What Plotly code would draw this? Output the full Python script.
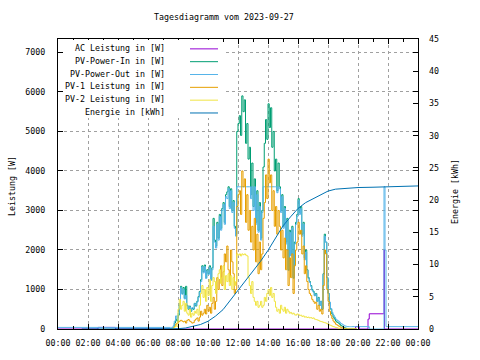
import pandas as pd
import plotly.graph_objects as go

# ---------------- data ----------------
day_start = "2023-09-27 07:30"
day_times = [t.strftime("%Y-%m-%d %H:%M") for t in pd.date_range(day_start, periods=150, freq="5min")]

pv_in = [
    0, 0, 40, 150, 250, 200,
    350, 600, 1080, 900, 1050, 780, 1080, 600, 500, 580, 450, 520,
    500, 650, 580, 700, 820, 950, 1250, 1600, 1450, 1620, 1300, 1500,
    1400, 1600, 1250, 1550, 2800, 2250, 2100, 2700, 2300, 2900, 2550, 3050,
    3200, 2700, 3400, 3470, 3600, 3100, 3550, 3000, 3250, 2600, 2400, 5000,
    5200, 5400, 4900, 5900, 5500, 5800, 4700, 5200, 4300, 4600, 3400, 4200,
    3100, 3800, 2700, 3500, 2500, 3200, 2300, 3000, 4100, 4700, 5300, 4800,
    5700, 5100, 5600, 4600, 5000, 4000, 4300, 3500, 4200, 3600, 3000, 3400,
    2600, 3100, 2200, 2800, 1500, 2500, 1900, 2600, 1300, 2200, 2700, 2900,
    3300, 2950, 3100, 2400, 2700, 1800, 2000, 1500, 1300, 1200, 1100, 1000,
    950, 850, 900, 700, 800, 600, 700, 500, 1400, 2400, 2200, 1300,
    900, 650, 500, 380, 300, 250, 200, 170, 150, 120, 90, 70,
    50, 30, 20, 0, 0, 0, 0, 0, 0, 0, 0, 0,
]

pv_out_day = [
    40, 40, 80, 200, 330, 260,
    400, 650, 1050, 880, 1000, 760, 850, 580, 520, 560, 470, 540,
    520, 640, 600, 680, 800, 930, 1200, 1570, 1420, 1580, 1280, 1470,
    1380, 1560, 1230, 1500, 2600, 2200, 2050, 2650, 2250, 2850, 2500, 3000,
    3150, 2650, 3350, 3300, 3550, 3050, 3500, 2950, 3200, 2550, 2350, 3600,
    3600, 3600, 3600, 3600, 3600, 3600, 3600, 3600, 3600, 3600, 3300, 3600,
    3000, 3600, 2650, 3400, 2450, 3100, 2250, 2950, 3600, 3600, 3600, 3600,
    3600, 3600, 3600, 3600, 3600, 3600, 3600, 3450, 3600, 3550, 2950, 3350,
    2550, 3050, 2150, 2750, 1480, 2450, 1850, 2550, 1280, 2150, 2650, 2850,
    3250, 2900, 3050, 2350, 2650, 1750, 1950, 1480, 1280, 1180, 1080, 980,
    930, 840, 880, 700, 780, 600, 700, 520, 1380, 2350, 2200, 1300,
    900, 680, 520, 420, 350, 300, 250, 220, 200, 170, 140, 120,
    100, 80, 70, 60, 60, 60, 60, 60, 60, 60, 60, 60,
]
pv_out_night_times = ["2023-09-27 00:00"]
pv_out_night = [40]
pv_out_eve_times = ["2023-09-27 20:00", "2023-09-27 20:45", "2023-09-27 21:44",
                    "2023-09-27 21:48", "2023-09-27 21:52", "2023-09-28 00:00"]
pv_out_eve = [60, 0, 3600, 2000, 60, 60]

pv1 = [
    0, 0, 20, 60, 120, 150,
    180, 200, 220, 200, 180, 200, 150, 220, 240, 200, 180, 150,
    160, 220, 250, 280, 200, 300, 450, 350, 400, 500, 380, 600,
    450, 550, 400, 650, 800, 500, 700, 1300, 1000, 1250, 1600, 1100,
    1450, 1900, 1700, 2100, 1500, 1200, 2000, 1700, 1400, 900, 1000, 3100,
    3400, 3500, 2900, 4000, 3600, 3800, 2700, 3400, 2500, 3000, 2200, 2600,
    2000, 2800, 1700, 2400, 1400, 2200, 1500, 1900, 2800, 3200, 3900, 3300,
    4300, 3700, 3900, 3000, 3500, 2600, 3100, 2400, 3000, 2600, 2000, 2500,
    1800, 2300, 1500, 2000, 1100, 1800, 1300, 1900, 900, 1600, 2000, 2200,
    2700, 2400, 2500, 1900, 2100, 1400, 1600, 1200, 1000, 900, 850, 750,
    700, 650, 680, 500, 600, 450, 500, 380, 1100, 2000, 1900, 1000,
    700, 450, 350, 270, 200, 160, 120, 100, 80, 60, 40, 30,
    20, 10, 0, 0, 0, 0, 0, 0, 0, 0, 0, 0,
]

pv2 = [
    0, 0, 20, 50, 90, 60,
    500, 750, 500, 600, 700, 450, 650, 400, 350, 500, 300, 400,
    350, 450, 400, 500, 350, 600, 900, 1100, 800, 1000, 700, 1050,
    850, 1250, 700, 1100, 1300, 1200, 900, 1200, 1400, 1500, 1150, 1300,
    1600, 1000, 1350, 1200, 1400, 1100, 1350, 1000, 1300, 1100, 1200, 1900,
    1870, 1900, 1850, 1900, 1880, 1900, 1870, 1850, 1300, 1100, 900, 1200,
    800, 700, 600, 700, 550, 600, 700, 550, 600, 800, 700, 900,
    1000, 850, 1050, 800, 900, 700, 550, 450, 500, 400, 600, 500,
    450, 550, 400, 500, 450, 400, 420, 380, 400, 360, 350, 380,
    370, 340, 350, 320, 330, 300, 310, 290, 300, 280, 290, 270,
    280, 250, 240, 230, 220, 200, 190, 180, 170, 160, 150, 130,
    120, 100, 90, 70, 60, 50, 40, 30, 20, 10, 0, 0,
    0, 0, 0, 0, 0, 0, 0, 0, 0, 0, 0, 0,
]

ac_times = ["2023-09-27 00:00", "2023-09-27 02:40", "2023-09-27 03:50", "2023-09-27 19:50",
            "2023-09-27 20:05", "2023-09-27 20:40", "2023-09-27 20:45", "2023-09-27 21:44",
            "2023-09-27 21:46", "2023-09-28 00:00"]
ac_power = [0, 40, 0, 60, 0, 250, 385, 2000, 0, 0]

energy_times = ["2023-09-27 01:35", "2023-09-27 07:30", "2023-09-27 08:00", "2023-09-27 08:30",
                "2023-09-27 09:00", "2023-09-27 09:30", "2023-09-27 10:00", "2023-09-27 10:30",
                "2023-09-27 11:00", "2023-09-27 11:30", "2023-09-27 12:00", "2023-09-27 12:30",
                "2023-09-27 13:00", "2023-09-27 13:30", "2023-09-27 14:00", "2023-09-27 14:30",
                "2023-09-27 15:00", "2023-09-27 15:30", "2023-09-27 16:00", "2023-09-27 16:30",
                "2023-09-27 17:00", "2023-09-27 17:30", "2023-09-27 18:00", "2023-09-27 18:30",
                "2023-09-27 19:00", "2023-09-27 19:30", "2023-09-27 20:00", "2023-09-27 21:00",
                "2023-09-27 22:00", "2023-09-27 22:40", "2023-09-28 00:00"]
energy = [0, 0, 0.05, 0.15, 0.4, 0.7, 1.2, 2.0, 3.0, 4.5, 6.0, 7.4, 8.9, 10.5, 12.2, 14.2,
          16.0, 17.4, 18.7, 19.6, 20.2, 20.8, 21.4, 21.7, 21.8, 21.9, 21.95, 22.0, 22.05, 22.1, 22.2]

tick_vals = ["2023-09-27 00:00", "2023-09-27 02:00", "2023-09-27 04:00", "2023-09-27 06:00",
             "2023-09-27 08:00", "2023-09-27 10:00", "2023-09-27 12:00", "2023-09-27 14:00",
             "2023-09-27 16:00", "2023-09-27 18:00", "2023-09-27 20:00", "2023-09-27 22:00",
             "2023-09-28 00:00"]
tick_labels = ["00:00", "02:00", "04:00", "06:00", "08:00", "10:00", "12:00", "14:00",
               "16:00", "18:00", "20:00", "22:00", "00:00"]

names = ["AC Leistung in [W]", "PV-Power-In in [W]", "PV-Power-Out in [W]",
         "PV-1 Leistung in [W]", "PV-2 Leistung in [W]", "Energie in [kWh]"]
colors = ["#9400D3", "#009E73", "#56B4E9", "#E69F00", "#F0E442", "#0072B2"]

# ---------------- figure ----------------
FONT = "DejaVu Sans Mono"
FS = 8.3
fig = go.Figure()
fig.add_trace(go.Scatter(x=ac_times, y=ac_power, name=names[0], mode="lines",
                         line=dict(color=colors[0], width=1, shape="hv")))
fig.add_trace(go.Scatter(x=day_times, y=pv_in, name=names[1], mode="lines",
                         line=dict(color=colors[1], width=1, shape="hv")))
fig.add_trace(go.Scatter(x=pv_out_night_times + day_times + pv_out_eve_times,
                         y=pv_out_night + pv_out_day + pv_out_eve, name=names[2], mode="lines",
                         line=dict(color=colors[2], width=1, shape="hv")))
fig.add_trace(go.Scatter(x=day_times, y=pv1, name=names[3], mode="lines",
                         line=dict(color=colors[3], width=1, shape="hv")))
fig.add_trace(go.Scatter(x=day_times, y=pv2, name=names[4], mode="lines",
                         line=dict(color=colors[4], width=1, shape="hv")))
fig.add_trace(go.Scatter(x=energy_times, y=energy, name=names[5], mode="lines", yaxis="y2",
                         line=dict(color=colors[5], width=1)))

L, R, T, B = 58, 418, 39, 333          # plot-area pixel edges
W, H = 480, 360

def px(x):
    return (x - L) / (R - L)

def py(y):
    return (B - y) / (B - T)

annotations = [
    dict(text="Tagesdiagramm vom 2023-09-27", x=px(224), y=py(17), xref="paper", yref="paper",
         showarrow=False, xanchor="center", yanchor="middle", font=dict(family=FONT, size=FS, color="black")),
    dict(text="Leistung [W]", x=px(12), y=py(188), xref="paper", yref="paper", textangle=-90,
         showarrow=False, xanchor="center", yanchor="middle", font=dict(family=FONT, size=FS, color="black")),
    dict(text="Energie [kWh]", x=px(455), y=py(194), xref="paper", yref="paper", textangle=-90,
         showarrow=False, xanchor="center", yanchor="middle", font=dict(family=FONT, size=FS, color="black")),
]
# opaque key box (hides grid behind the key, like the original)
shapes = [dict(type="rect", xref="paper", yref="paper", x0=px(63), x1=px(223), y0=py(119), y1=py(40),
               fillcolor="white", line=dict(width=0), layer="above")]
row_y = [49, 62, 75, 88, 101, 114]
for name, col, yy in zip(names, colors, row_y):
    annotations.append(dict(text=name, x=px(167), y=py(yy - 1), xref="paper", yref="paper",
                            showarrow=False, xanchor="right", yanchor="middle",
                            font=dict(family=FONT, size=FS, color="black")))
    shapes.append(dict(type="line", xref="paper", yref="paper", x0=px(190), x1=px(218),
                       y0=py(yy), y1=py(yy), line=dict(color=col, width=1), layer="above"))

fig.update_layout(
    width=W, height=H,
    margin=dict(l=L, r=W - R, t=T, b=H - B, pad=0),
    paper_bgcolor="white", plot_bgcolor="white",
    showlegend=False,
    font=dict(family=FONT, size=FS, color="black"),
    annotations=annotations, shapes=shapes,
    xaxis=dict(type="date", range=["2023-09-27 00:00", "2023-09-28 00:00"],
               tickvals=tick_vals, ticktext=tick_labels, ticks="inside", ticklen=5,
               tickcolor="black", showline=True, linecolor="black", linewidth=1, mirror="ticks",
               showgrid=True, gridcolor="#a0a0a0", griddash="3px,3px", gridwidth=1,
               zeroline=False, ticklabelstandoff=6,
               minor=dict(dtick=3600000, ticks="inside", ticklen=3, tickcolor="black", showgrid=False)),
    yaxis=dict(range=[0, 7340], tickvals=[0, 1000, 2000, 3000, 4000, 5000, 6000, 7000],
               ticks="inside", ticklen=5, tickcolor="black", showline=True, linecolor="black",
               linewidth=1, mirror="ticks", showgrid=True, gridcolor="#a0a0a0",
               griddash="3px,3px", gridwidth=1, zeroline=False, ticklabelstandoff=10),
    yaxis2=dict(range=[0, 45], dtick=5, overlaying="y", side="right", ticks="inside",
                ticklen=5, tickcolor="black", showgrid=False, zeroline=False,
                showline=False, ticklabelstandoff=10),
)

# remove the browser's default 8px body margin so the figure sits at the page origin
fig.write_html("out.html", config={"displayModeBar": False},
               post_script="document.body.style.margin='0';")
